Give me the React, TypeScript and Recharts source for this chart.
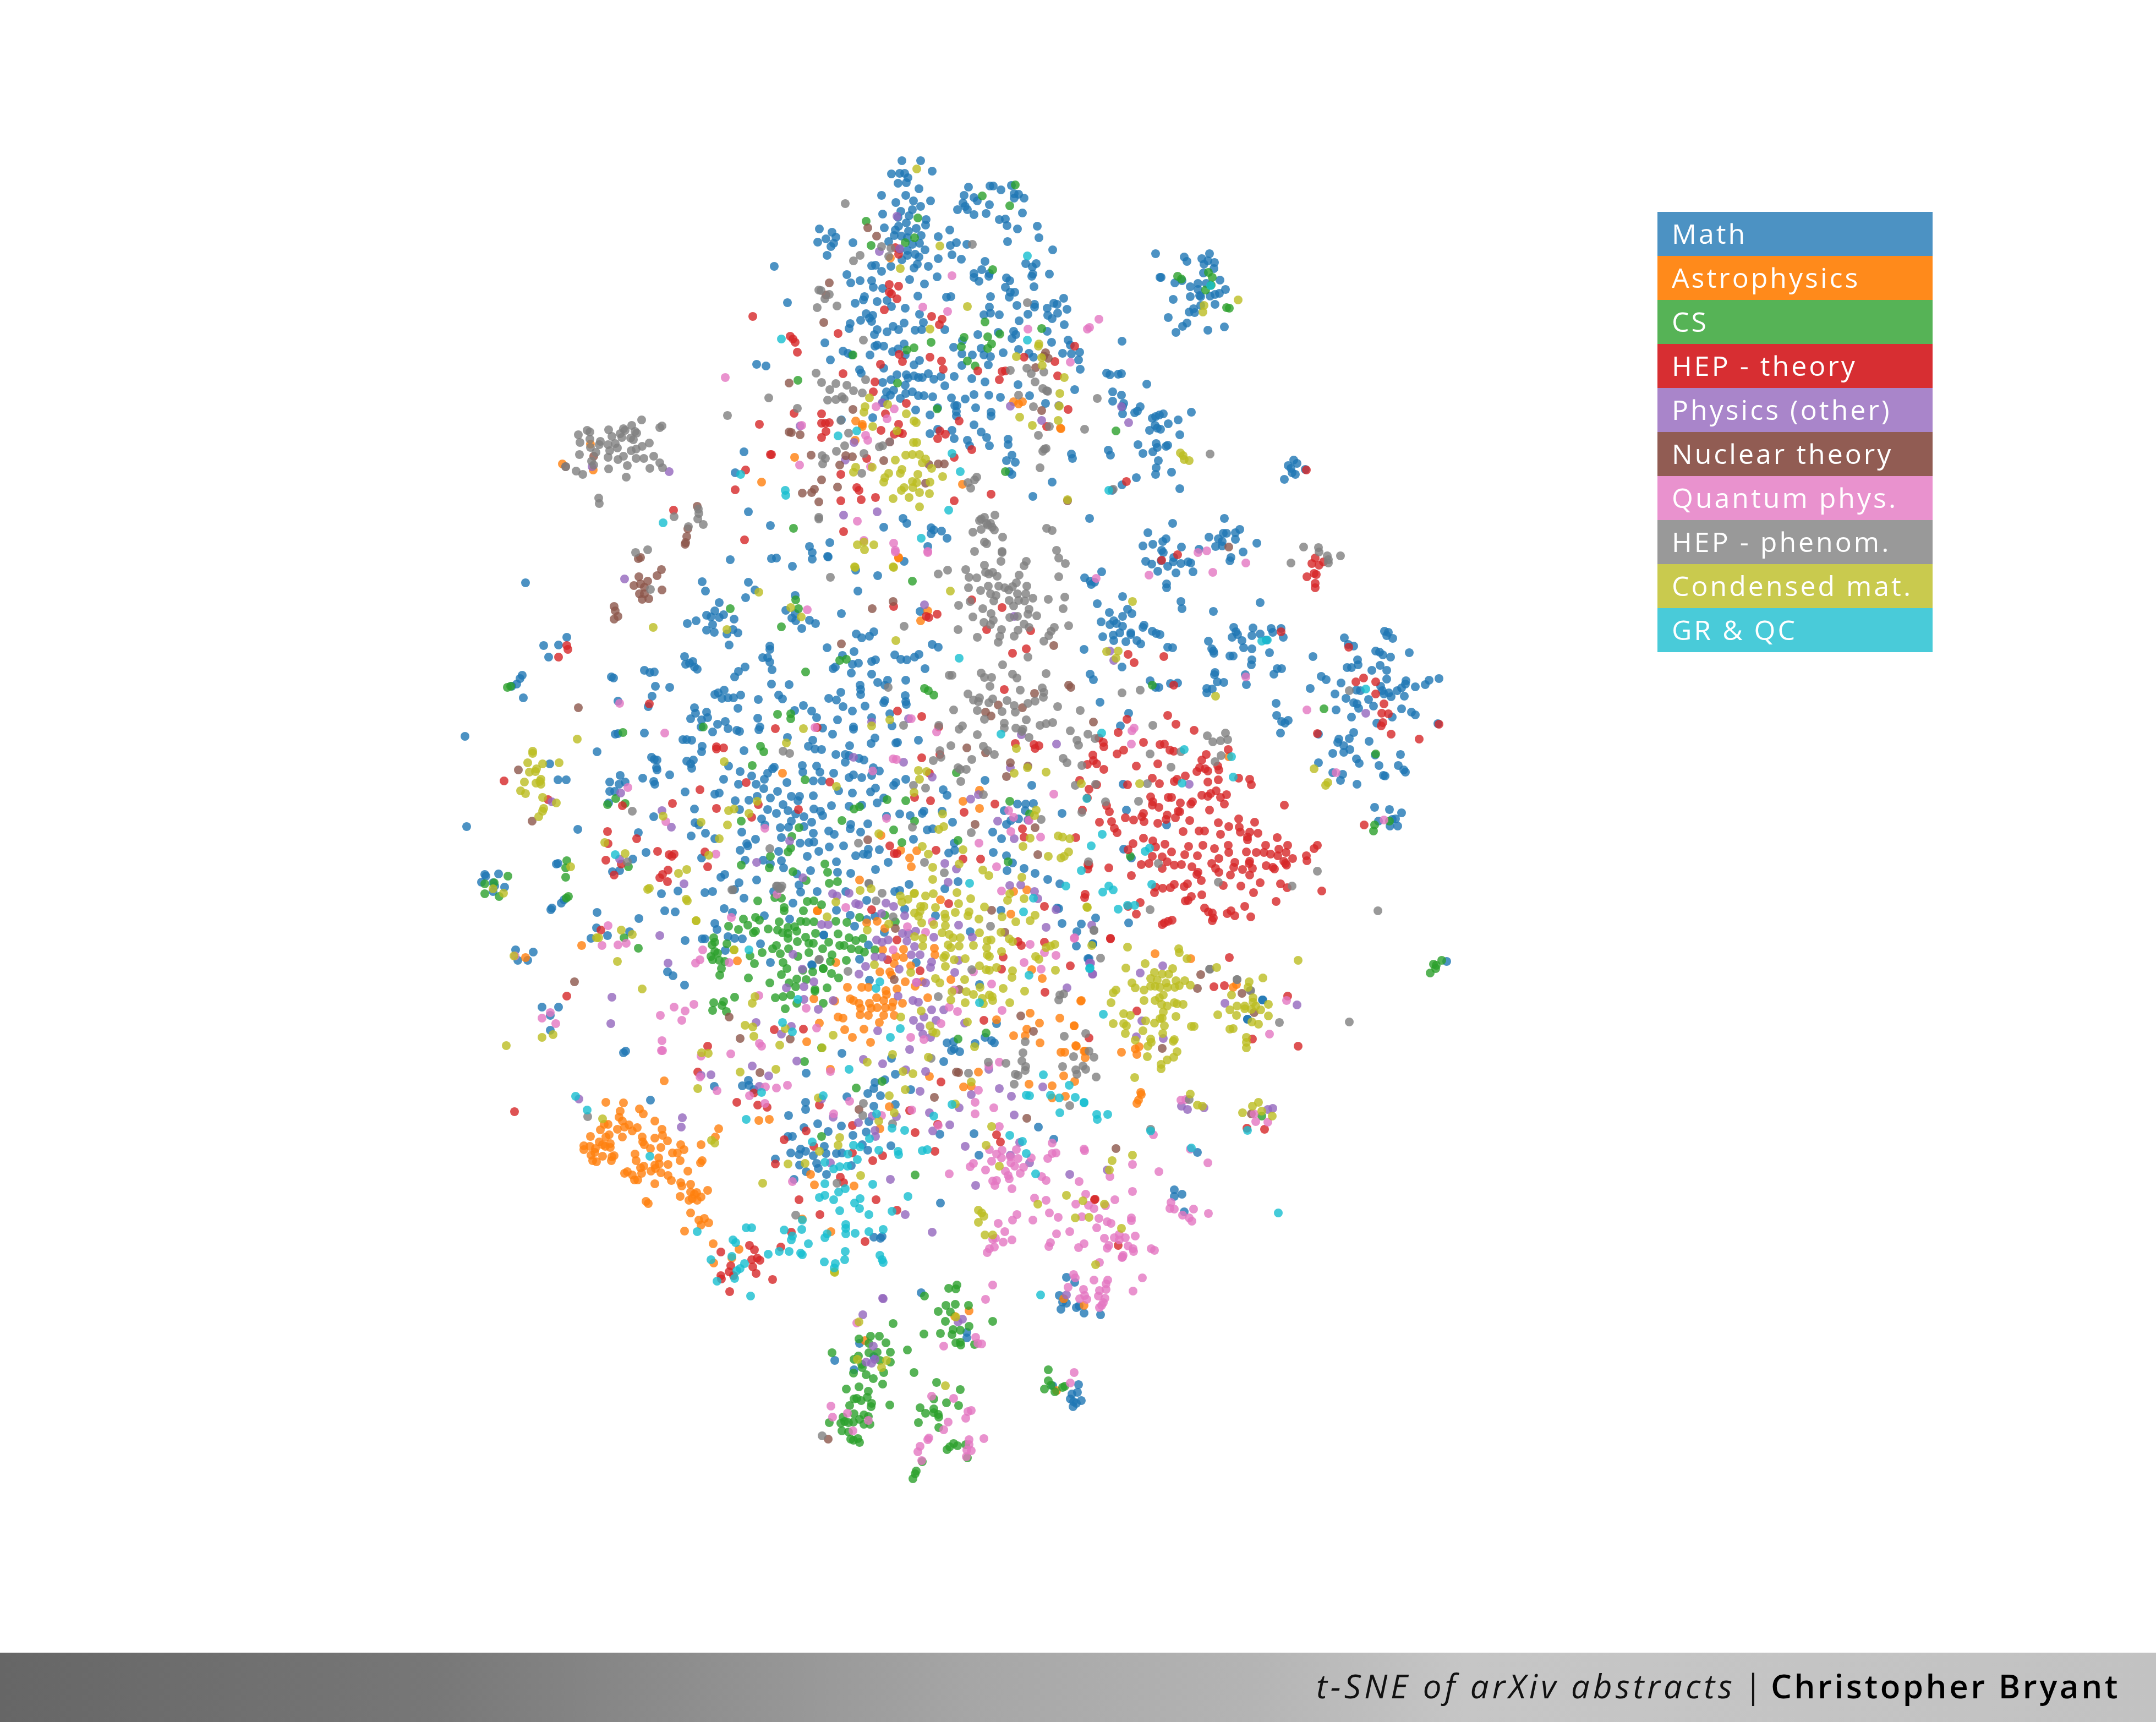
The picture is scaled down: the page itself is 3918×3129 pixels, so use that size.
import React from 'react'
import { ScatterChart, Scatter, XAxis, YAxis } from 'recharts'

type Pt = [number, number]

const WIDTH = 3918
const HEIGHT = 3129

// t-SNE embedding has no real units, values are read off the picture
const math: Pt[] = [
[1639,292],[1673,292],[1694,311],[1620,316],[1635,315],[1644,315],[1650,323],[1632,333],[1647,332],[1670,343],[1602,355],[1646,355],[1660,365],[1691,365],[1628,368],[1673,375],[1658,381],[1637,384],[1604,389],[1652,392],[1632,395],[1683,399],[1647,405],[1682,409],[1633,411],[1607,414],[1665,415],[1627,418],[1651,420],[1489,416],[1512,422],[1519,431],[1501,434],[1486,440],[1515,442],[1510,448],[1503,464],[1550,441],[1625,428],[1638,429],[1674,428],[1615,439],[1649,432],[1671,442],[1658,444],[1681,454],[1635,453],[1649,455],[1663,462],[1670,467],[1649,464],[1639,472],[1667,480],[1687,484],[1661,487],[1619,484],[1602,493],[1584,483],[1591,482],[1539,499],[1546,514],[1563,510],[1584,510],[1587,522],[1604,524],[1653,508],[1680,516],[1703,503],[1705,470],[1705,430],[1726,418],[1727,446],[1738,441],[1757,444],[1730,463],[1747,471],
[1760,340],[1799,338],[1805,338],[1819,345],[1838,337],[1752,355],[1770,359],[1776,365],[1843,352],[1851,353],[1861,360],[1843,360],[1750,369],[1754,375],[1798,372],[1740,381],[1758,381],[1770,390],[1792,388],[1858,387],[1816,399],[1827,398],[1830,410],[1849,416],[1885,411],[1888,432],[1831,439],[1790,475],[1784,490],[1770,497],[1770,504],[1779,511],[1798,497],[1797,502],[1864,479],[1883,479],[1876,485],[1877,498],[1875,502],[1829,505],[1835,510],[1827,522],[1879,521],[1836,531],[1844,531],[1834,540],[1800,539],[1848,555],[1880,553],[1880,558],[1798,558],[1800,569],[1788,572],[1816,572],[1868,571],[1852,583],[1720,540],[1728,539],[1668,538],[1594,548],[1571,539],[1569,545],[1612,546],[1554,551],[1620,557],[1645,560],[1671,571],[1574,570],[1586,573],[1580,578],[1584,584],[1564,582],[1545,588],[1543,597],[1594,599],[1589,608],[1612,603],[1623,593],[1633,599],[1643,587],[1663,600],[1675,599],[1678,586],[1717,599],
[1532,638],[1541,642],[1548,645],[1581,645],[1590,629],[1594,627],[1606,629],[1622,639],[1632,634],[1643,625],[1645,645],[1509,654],[1733,631],[1749,619],[1748,643],[1767,645],[1777,608],[1783,633],[1788,645],[1800,648],[1823,641],[1814,604],[1842,602],[1846,608],[1839,615],[1851,635],[1870,642],[1878,649],[1796,663],[1748,664],[1661,663],[1671,655],[1562,672],[1565,678],[1606,669],[1604,695],[1630,681],[1619,690],[1647,681],[1650,687],[1661,683],[1669,686],[1676,686],[1687,679],[1697,689],[1710,684],[1734,684],[1766,688],[1790,694],[1717,701],[1645,700],[1850,699],[1611,712],[1624,709],[1618,718],[1646,715],[1658,712],[1636,724],[1669,719],[1679,719],[1695,721],[1729,723],[1754,725],[1770,717],[1797,718],[1818,722],[1871,719],[1608,725],[1604,732],[1704,741],[1735,737],[1739,737],[1773,741],[1738,748],[1664,745],[1801,749],[1801,756],[1900,733],[1586,759],[1690,754],[1738,756],[1529,763],[1770,772],[1690,788],[1730,782],[1704,780],[1783,785],[1734,797],[1793,795],[1758,800],[1762,810],[1832,798],[1798,810],[1832,808],[1839,827],[1829,837],[1845,840],[1834,857],[1839,862],[1877,902],[1641,942],[1648,951],[1606,958],[1692,959],[1692,970],[1697,963],[1711,965],[1721,978],[1508,986],[1471,993],[1476,1004],[1686,993],[1505,1012],
[1407,484],[1431,550],[1499,623],[1375,662],[1392,665],[1352,821],[1336,859],[1360,930],[1400,955],[1327,1017],[955,1059],[1276,1057],[1282,1074],[1360,1058],[1372,1072],[1355,1086],[1402,1015],[1411,1014],[1476,1016],[1504,1011],[1440,1029],
[1307,1095],[1284,1118],[1299,1110],[1292,1121],[1315,1117],[1307,1122],[1265,1128],[1249,1133],[1334,1125],[1295,1135],[1284,1145],[1298,1149],[1321,1152],[1332,1144],[1341,1150],[1325,1172],[1445,1082],[1428,1109],[1445,1115],[1439,1123],[1446,1128],[1471,1127],[1482,1133],[1457,1142],[1030,1158],[1015,1172],[988,1173],[997,1194],[949,1227],[945,1233],[939,1243],[930,1247],[951,1268],[845,1338],[848,1502],[1244,1193],[1259,1202],[1246,1207],[1253,1205],[1262,1212],[1267,1216],[1171,1218],[1181,1222],[1189,1221],[1111,1230],[1115,1232],[1191,1247],[1217,1249],[1185,1265],[1178,1284],[1123,1274],[1399,1174],[1399,1180],[1386,1195],[1395,1195],[1399,1203],[1403,1217],[1354,1212],[1342,1220],[1335,1230],[1402,1243],[1434,1244],[1316,1254],[1305,1259],[1299,1262],[1312,1269],[1323,1268],[1333,1268],[1346,1263],[1378,1271],[1415,1263],[1422,1270],[1341,1287],[1262,1286],[1284,1294],[1264,1296],[1255,1306],[1275,1308],[1286,1304],[1377,1305],[1444,1291],[1460,1282],[1475,1292],[1484,1304],[1318,1311],[1304,1316],[1274,1321],[1323,1324],[1295,1330],[1339,1327],[1344,1329],[1381,1321],[1379,1326],[1431,1340],[1495,1323],[1477,1345],[1469,1356],[1481,1361],[1493,1362],[1118,1334],[1123,1333],[1171,1332],[1241,1344],[1248,1344],[1257,1345],[1276,1356],[1275,1366],[1352,1364],[1085,1366],[1184,1376],[1189,1380],[1194,1381],[1193,1395],[1194,1399],[1217,1408],[1248,1383],[1260,1381],[1255,1388],[1257,1396],[1324,1392],[1407,1394],[1404,1397],[1395,1405],[1345,1402],[1366,1410],[1458,1391],[1459,1403],[1484,1392],[1490,1403],[1389,1416],[1374,1425],[1342,1425],[1388,1433],[1430,1422],[1413,1438],[1478,1419],[1494,1419],[1315,1416],[1299,1443],[1307,1441],[1245,1439],[1168,1414],[1188,1420],[1190,1425],[1127,1409],[1108,1421],[1136,1421],[1125,1425],[1108,1438],[1117,1438],[1106,1459],[1014,1417],[1029,1417],[999,1388],
[1376,1447],[1400,1450],[1438,1447],[1453,1447],[1450,1455],[1478,1446],[1336,1455],[1361,1454],[1423,1462],[1344,1471],[1262,1470],[1395,1471],[1411,1478],[1432,1473],[1446,1479],[1479,1470],[1461,1484],[1491,1474],[1495,1482],[1384,1488],[1438,1492],[1475,1494],[1188,1484],[1263,1495],[1270,1499],[1390,1499],[1418,1504],[1433,1503],[1461,1502],[1348,1512],[1478,1514],[1282,1514],[1256,1519],[1299,1524],[1160,1513],[1050,1507],[1373,1525],[1420,1522],[1357,1533],[1359,1537],[1454,1532],[1470,1531],[1479,1530],[1345,1545],[1415,1547],[1488,1547],[1467,1556],[1275,1559],[1150,1561],[1174,1549],[1354,1563],[1387,1563],[1420,1564],[1400,1570],[1424,1577],[1473,1582],[1126,1582],[1113,1584],[1448,1588],[1317,1589],[1310,1594],[1375,1599],[1343,1604],[1452,1608],[1232,1619],[1295,1620],[1281,1622],[1455,1621],[1406,1620],[1485,1620],[1202,1624],[1335,1616],[1352,1632],[1441,1641],[1316,1651],[1208,1655],[1227,1657],[1331,1658],[1389,1664],[1085,1658],[1161,1669],[1435,1670],[1299,1678],[1303,1689],[1144,1693],[1084,1686],[1074,1705],[1104,1700],[1276,1706],[1281,1706],[1323,1702],[1349,1706],[1335,1705],[1245,1709],[1497,1699],[1382,1715],[937,1726],[969,1730],[941,1745],[959,1745],[1318,1727],[1400,1749],[1475,1753],[1213,1766],[1223,1773],[1244,1790],
[881,1589],[896,1604],[906,1588],[875,1603],[896,1620],[917,1612],[883,1592],[899,1610],[1011,1570],[1014,1569],[1003,1650],[1020,1641],[1025,1635],[1001,1653],[985,1830],[1000,1845],[1015,1830],[1000,1872],[1137,1910],
[2198,461],[2152,467],[2157,475],[2184,470],[2195,474],[2207,477],[2188,480],[2206,488],[2187,496],[2108,504],[2110,504],[1913,454],[2100,461],[1907,498],[2217,509],[2148,510],[2135,514],[2177,515],[2192,515],[2163,521],[2177,526],[2227,526],[2216,533],[2208,535],[2199,538],[2163,539],[2180,537],[2182,539],[2132,544],[2208,553],[2182,555],[2169,561],[2161,567],[2171,568],[2123,577],[2157,587],[2149,593],[2137,604],[2195,600],[2225,594],
[1933,542],[1915,551],[1921,553],[1903,560],[1939,562],[1922,569],[1904,573],[1912,579],[1934,590],[1903,602],[1911,622],[1941,618],[1945,627],[2039,620],[1931,642],[1947,643],[1962,640],[1960,654],[1963,671],[2011,678],[2017,681],[2032,680],[2038,679],[2084,698],[1953,708],[2022,712],[2038,718],[2022,729],[2042,733],[2040,739],[2040,752],[2072,739],[2067,747],[2062,750],[2114,752],[2107,754],[2100,757],[2094,760],[2165,749],[2141,763],[2123,770],[2099,773],[2103,778],[2109,780],[2089,782],[2144,790],[2068,808],[2101,806],[2103,813],[2122,809],[2119,811],[2095,821],[2077,824],[2014,818],[2018,827],[1947,825],[1949,833],[2105,837],[2101,850],[2100,862],[2129,858],[2065,868],[2039,881],[2021,891],[2144,888],[1912,876],[2351,836],[2341,846],[2357,842],[2346,851],[2348,859],[2354,862],[2334,871],[2372,853],
[1980,942],[2131,951],[2225,942],[2086,968],[2253,962],[2223,969],[2229,969],[2245,968],[2197,976],[2214,979],[2245,980],[2119,979],[2113,984],[2221,984],[2284,987],[2077,992],[2095,989],[2209,993],[2147,994],[2221,992],[2111,1000],[2114,1004],[2179,998],[2259,1003],[2237,1013],[2235,1019],[2082,1020],[2093,1025],[2110,1019],[2133,1013],[2132,1021],[2159,1021],[2164,1023],[2146,1024],[2122,1029],[2104,1038],[2137,1041],[2168,1039],[2002,1039],[1971,1050],[1981,1056],[1983,1062],[1989,1058],[2120,1061],[2120,1068],[2290,1095],[2205,1111],[2146,1093],[2148,1106],[2040,1084],[1994,1097],[2016,1113],[2049,1107],[2040,1120],[2057,1115],[2001,1130],[2024,1128],[2017,1135],[2029,1133],[2079,1136],[2077,1140],[2040,1138],[2094,1147],[2101,1151],[2108,1153],[2055,1150],[2035,1150],[2023,1154],[2004,1157],[2055,1153],[2024,1164],[2046,1166],[2066,1164],[2073,1170],[2122,1176],[2131,1177],[1970,1180],[2039,1212],
[2242,1140],[2277,1141],[2310,1142],[2328,1142],[2246,1148],[2249,1153],[2239,1158],[2275,1155],[2290,1152],[2313,1149],[2332,1158],[2257,1164],[2196,1165],[2301,1163],[2260,1177],[2202,1179],[2275,1179],[2205,1183],[2206,1187],[2307,1186],[2235,1192],[2241,1192],[2275,1199],[2274,1208],[2386,1193],[2443,1159],[2450,1171],[2460,1174],[2516,1147],[2523,1149],[2520,1155],[2531,1160],[2500,1183],[2507,1185],[2513,1190],[2527,1194],[2561,1186],[2467,1199],[2468,1208],[2448,1213],[2456,1213],[2508,1209],[2493,1218],[2321,1215],[2329,1215],
[2208,1222],[2207,1226],[2212,1239],[2224,1240],[2263,1226],[2265,1244],[2193,1251],[2203,1252],[2193,1259],[2127,1242],[2140,1241],[2090,1237],[2100,1249],[2106,1249],[1981,1225],[1987,1235],[1999,1276],[2051,1296],[2036,1319],[2319,1278],[2320,1300],[2329,1311],[2341,1309],[2335,1314],[2327,1332],[2315,1225],[2520,1234],[2520,1218],[2401,1229],[2410,1235],[2437,1241],[2509,1247],[2555,1237],[2554,1243],[2572,1248],[2590,1244],[2597,1236],[2615,1233],[2547,1250],[2539,1255],[2381,1251],[2465,1254],[2472,1255],[2512,1255],[2515,1261],[2528,1266],[2524,1259],[2552,1265],[2426,1261],[2446,1269],[2487,1271],[2460,1277],[2466,1279],[2469,1287],[2496,1283],[2428,1290],[2547,1288],[2565,1294],[2572,1299],[2456,1303],[2530,1303],[2502,1314],[2613,1315],[2396,1334],[2460,1331],[2433,1343],[2452,1342],[2488,1347],[2431,1349],[2442,1355],[2453,1362],[2442,1367],[2422,1369],[2499,1372],[2545,1371],[2396,1386],[2465,1379],[2470,1387],[2506,1391],[2541,1391],[2551,1399],[2554,1403],[2422,1404],[2440,1407],[2514,1409],[2517,1410],[2436,1418],[2466,1425],[2498,1467],[2525,1471],[2547,1477],[2505,1492],[2536,1488],[2526,1501],[2540,1501],[2530,1489],[2041,1425],[2047,1472],[2120,1499],[2042,1543],[2056,1559],[2051,1677],[1991,1668],[1965,1679],[1957,1693],[1986,1715],[1956,1719],[1977,1742],[2295,1817],[2267,1852],[2629,1747],
[1643,1020],[1595,1046],[1555,1036],[1559,1074],[1529,1115],[1672,1111],[1556,1152],[1580,1156],[1566,1159],[1588,1148],[1694,1171],[1705,1176],[1503,1177],[1552,1184],[1626,1190],[1637,1198],[1648,1199],[1662,1194],[1670,1189],[1531,1191],[1584,1202],[1591,1199],[1549,1207],[1560,1205],[1518,1212],[1514,1215],[1681,1215],[1547,1223],[1584,1225],[1595,1240],[1613,1236],[1608,1245],[1646,1236],[1563,1245],[1564,1253],[1564,1262],[1528,1258],[1506,1269],[1520,1272],[1532,1284],[1572,1283],[1608,1273],[1606,1277],[1645,1264],[1646,1275],[1647,1280],[1549,1292],[1617,1297],[1584,1304],[1621,1319],[1522,1308],[1551,1321],[1551,1325],[1513,1334],[1583,1351],[1590,1341],[1628,1350],[1631,1349],[1669,1345],[1544,1355],[1519,1371],[1536,1371],[1543,1373],[1561,1378],[1570,1381],[1536,1385],[1587,1395],[1598,1401],[1515,1405],[1551,1408],[1543,1413],[1566,1413],[1584,1409],[1646,1416],[1628,1422],[1624,1427],[1790,1418],[1875,1427],[1591,1432],[1524,1437],[1582,1439],[1549,1441],[1714,1435],[1721,1445],[1606,1450],[1594,1459],[1511,1464],[1543,1465],[1566,1463],[1849,1461],[1864,1461],[1878,1460],[1825,1473],[1863,1473],[1679,1474],[1676,1478],[1712,1474],[1635,1479],[1654,1482],[1611,1483],[1930,1478],[1851,1488],[1837,1491],[1731,1494],[1577,1497],[1546,1498],[1829,1498],[1868,1490],[1545,1506],[1506,1510],[1564,1512],[1685,1508],[1695,1506],[1804,1512],[1516,1516],[1660,1525],[1820,1524],[1507,1539],[1533,1537],[1734,1532],[1735,1545],[1598,1544],[1578,1543],[1555,1555],[1569,1552],[1577,1553],[1724,1550],[1805,1549],[1829,1555],[1520,1566],[1614,1567],[1840,1568],[1861,1578],[1591,1580],[1522,1585],[1546,1587],[1830,1582],[1881,1587],[1904,1598],[1926,1606],[1921,1650],[1930,1678],
[1575,1636],[1520,1654],[1545,1663],[1553,1683],[1575,1671],[1590,1665],[1607,1694],[1644,1652],[1578,1717],[1562,1743],[1497,1699],[1476,1754],[1580,1781],[1665,1749],[1700,1664],[1717,1615],[1652,1607],[1626,1620],[1635,1618],[1537,1620],[1741,1602],[1819,1654],[1763,1693],[1780,1789],[1924,1651],
[1811,1860],[1790,1885],[1802,1891],[1807,1895],[1721,1895],[1733,1893],[1772,1896],[1734,1906],[1729,1909],[1744,1911],[1715,1929],[1530,1914],[1620,1923],[1465,1950],[1627,1952],[1608,1962],[1590,1967],[1588,1978],[1577,1987],[1600,1991],[1360,1963],[1349,1973],[1361,1972],[1370,1980],[1298,1974],[1539,1993],[1655,1980],[1464,2003],[1464,2016],[1588,2010],[1627,2007],[1433,2027],[1486,2042],[1579,2038],[1529,2046],[1461,2049],[1505,2056],[1574,2057],[1550,2063],[1708,2061],[1770,2060],[1887,2048],[1915,2070],[1432,2065],[1440,2065],[1567,2080],[1619,2082],[1498,2083],[1455,2088],[1464,2092],[1577,2090],[1437,2095],[1452,2098],[1478,2100],[1501,2096],[1520,2096],[1530,2095],[1779,2099],[1409,2106],[1453,2117],[1484,2114],[1547,2118],[1487,2123],[1465,2129],[1502,2134],[1443,2143],[1709,2186],[1588,2248],[1603,2247],[1600,2250],
[1986,1715],[1979,1742],[2294,1817],[2267,1852],[2134,2162],[2134,2174],[2148,2170],[2152,2202],[2176,2094],[1182,1999],[1133,1913],
[1674,2349],[1562,2441],[1517,2472],[1588,2465],[1552,2489],[1757,2421],[1757,2431],[1938,2321],[1953,2330],[1925,2354],[1931,2366],[1938,2368],[1928,2379],[1956,2376],[1970,2386],[2000,2389],[1961,2373],[1913,2518],[1960,2516],[1958,2530],[1948,2533],[1945,2542],[1965,2545],[1951,2547],[1956,2550],[1950,2556],
]

const astro: Pt[] = [
[1022,843],[1073,807],[1078,854],[1384,876],[1422,1405],[1057,1718],[955,1740],[1340,1746],[1485,1655],[1618,469],[1842,730],[1851,734],[1858,730],[1555,765],[1567,771],[1567,775],[1927,778],[1554,800],[1444,831],[1749,880],[1633,1013],[1928,779],[1633,1014],[1686,1110],[1673,1128],[1750,1456],[1780,1436],[1780,1469],[1601,1518],[1637,1545],[1653,1559],[1666,1546],[1562,1599],[1656,1575],[2233,1375],
[1866,1617],[1842,1620],[1709,1635],[1486,1655],[1837,1661],[1575,1677],[1594,1674],[1608,1687],[1604,1726],[1698,1723],[1642,1725],[1628,1738],[1642,1740],[1699,1735],[1519,1749],[1625,1751],[1655,1755],[1599,1766],[1617,1766],[1620,1772],[1875,1762],[1728,1780],[1645,1784],[1894,1778],[1676,1784],[1630,1797],[1540,1794],[1566,1794],[1578,1794],[1663,1792],[1610,1800],[1611,1807],[1593,1813],[1479,1815],[1545,1815],[1551,1818],[1561,1823],[1580,1823],[1606,1818],[1623,1821],[1640,1823],[1686,1813],[1964,1819],[1517,1819],[1564,1832],[1583,1832],[1594,1831],[1609,1831],[1621,1830],[1563,1844],[1578,1845],[1606,1845],[1625,1845],[1523,1848],[1532,1850],[1872,1841],[1926,1850],[1489,1859],[1598,1858],[1811,1853],[1889,1859],[1952,1864],[1535,1871],[1570,1870],[1866,1870],[1863,1882],[1842,1882],[1549,1885],[1582,1894],[1466,1893],[1890,1895],[1955,1900],[1928,1912],[1935,1912],[1972,1922],[1970,1910],[1509,1943],[1689,1956],[1870,1970],[1933,1955],[1953,1965],[1778,1948],[1751,1975],[1765,1974],[1912,1973],[1936,1992],[1912,1995],[1616,2011],[1379,2036],[1398,2034],[1599,2051],[1473,2134],[1480,2153],[1552,2155],[1458,2215],[1510,2238],[1343,2270],[1296,2260],[1297,2295],[1330,2286],
[1101,2003],[1133,2004],[1127,2019],[1125,2030],[1162,2015],[1169,2024],[1190,2037],[1131,2037],[1105,2043],[1098,2043],[1091,2053],[1143,2044],[1135,2048],[1122,2052],[1149,2055],[1158,2049],[1203,2052],[1107,2062],[1101,2066],[1073,2065],[1204,2063],[1131,2066],[1167,2066],[1190,2068],[1213,2073],[1089,2075],[1168,2075],[1171,2080],[1061,2082],[1072,2083],[1095,2080],[1109,2078],[1237,2080],[1274,2080],[1306,2051],[1300,2066],[1201,2085],[1100,2083],[1109,2085],[1182,2087],[1243,2089],[1061,2089],[1082,2087],[1081,2094],[1222,2095],[1231,2095],[1154,2097],[1074,2099],[1095,2101],[1116,2100],[1112,2102],[1197,2104],[1156,2109],[1077,2109],[1084,2111],[1111,2109],[1236,2109],[1276,2109],[1273,2113],[1214,2116],[1198,2115],[1190,2117],[1170,2119],[1164,2122],[1191,2123],[1140,2129],[1135,2132],[1166,2132],[1183,2128],[1201,2131],[1250,2128],[1149,2135],[1214,2136],[1153,2144],[1159,2144],[1220,2145],[1190,2151],[1237,2149],[1255,2152],[1239,2155],[1286,2163],[1255,2166],[1266,2167],[1262,2170],[1236,2174],[1274,2175],[1252,2181],[1258,2178],[1267,2181],[1174,2183],[1178,2187],[1255,2204],[1207,1964],[1270,2217],[1280,2214],[1288,2222],[1274,2226],[1244,2237],
[2099,1733],[2164,1742],[1965,1818],[2038,1912],[2063,1906],[2070,1902],[2066,1916],[2241,1794],[2247,1789],[2073,1985],[2074,1989],[2069,1999],[2066,2005],[1952,1864],[1956,1901],[1972,1910],[1970,2372],[1761,2382],[1735,2392],[1572,2436],[1920,2527],[1933,2360],
]

const cs: Pt[] = [
[1574,402],[1668,396],[1662,432],[1645,441],[1583,446],[1804,490],[1785,356],[1835,374],[1845,336],[1692,622],[1661,632],[1648,636],[1550,645],[1752,613],[1747,630],[1795,612],[1817,607],[1802,625],[1795,633],[1790,585],[1893,597],[1772,665],[1758,656],[1631,696],[1703,743],[1827,857],[1450,691],[1442,960],[1658,1056],
[2140,502],[2147,507],[2203,504],[2196,495],[2201,518],[2191,527],[2229,559],[2234,560],[2028,783],[2406,1288],[2094,1245],[2500,1370],[2054,1556],[2525,1492],[2498,1499],[2496,1510],[2610,1754],[2605,1752],[2620,1745],[2609,1760],[2599,1768],
[1327,1106],[1446,1090],[1451,1106],[1420,1139],[922,1249],[928,1247],[1464,1221],[1132,1331],[1278,1321],[1413,1298],[1437,1306],[1437,1297],[1382,1356],[1388,1366],[1367,1391],[1463,1417],[1119,1451],[1104,1462],[1136,1460],[1142,1575],[1347,1492],[1452,1504],[1439,1520],[1437,1541],[1432,1548],[1400,1556],[1347,1572],[1398,1577],[1030,1564],[1028,1577],[1028,1594],[1033,1629],[1029,1632],[923,1592],[881,1606],[898,1604],[881,1624],[907,1629],[1134,1704],[1160,1723],[1499,1570],[1441,1584],[1504,1585],
[1465,1600],[1377,1637],[1408,1631],[1420,1632],[1425,1649],[1425,1655],[1467,1638],[1479,1637],[1493,1644],[1460,1655],[1351,1670],[1373,1667],[1380,1672],[1324,1683],[1359,1681],[1342,1689],[1373,1692],[1369,1695],[1396,1688],[1416,1675],[1413,1690],[1432,1685],[1444,1684],[1455,1674],[1465,1675],[1479,1675],[1448,1692],[1432,1696],[1432,1705],[1422,1695],[1482,1696],[1464,1703],[1449,1711],[1470,1714],[1478,1714],[1411,1718],[1404,1724],[1418,1733],[1433,1724],[1470,1731],[1495,1724],[1297,1704],[1299,1712],[1294,1717],[1321,1715],[1299,1729],[1304,1732],[1292,1738],[1295,1744],[1307,1745],[1317,1747],[1363,1737],[1385,1731],[1450,1738],[1371,1751],[1423,1749],[1430,1760],[1311,1760],[1308,1772],[1360,1777],[1399,1786],[1420,1771],[1459,1763],[1477,1766],[1496,1760],[1434,1786],[1448,1779],[1446,1793],[1465,1780],[1481,1798],
[1507,1605],[1522,1602],[1562,1667],[1519,1674],[1539,1676],[1523,1697],[1543,1704],[1555,1709],[1568,1705],[1506,1712],[1526,1718],[1534,1718],[1547,1724],[1561,1726],[1571,1730],[1590,1726],[1512,1735],[1509,1747],[1538,1745],[1496,1760],[1511,1769],[1524,1777],[1503,1795],[1608,1663],[1627,1675],[1481,1801],[1437,1808],[1423,1811],[1409,1813],[1448,1823],[1496,1823],[1427,1833],[1315,1820],[1335,1812],[1297,1822],[1312,1827],[1295,1836],[1320,1838],[1462,1929],[1493,1904],[1556,1977],[1493,2065],[1663,2135],[1603,1965],[1792,1877],[1741,1888],[1530,1491],[1738,1404],[1612,1453],[1646,1455],[1562,1466],[1552,1470],[1835,1456],[1871,1479],[1662,1492],[1624,1508],[1639,1531],[1741,1527],[1832,1566],[1526,1200],[1538,1198],[1680,1251],[1687,1255],[1697,1263],[2293,2028],
[1739,2335],[1724,2341],[1737,2342],[1680,2355],[1719,2372],[1736,2370],[1760,2372],[1705,2383],[1727,2384],[1718,2401],[1804,2401],[1761,2410],[1732,2416],[1745,2417],[1709,2423],[1679,2424],[1730,2425],[1737,2440],[1745,2439],[1746,2444],[1771,2443],[1623,2405],[1598,2428],[1582,2428],[1561,2433],[1610,2440],[1579,2441],[1649,2453],[1512,2458],[1618,2457],[1579,2458],[1594,2457],[1560,2464],[1552,2470],[1599,2472],[1618,2475],[1566,2479],[1567,2485],[1661,2494],[1606,2494],[1574,2498],[1551,2495],[1587,2505],[1604,2515],[1538,2524],[1561,2520],[1578,2528],[1576,2539],[1557,2541],[1552,2542],[1565,2545],[1544,2554],[1584,2550],[1583,2556],[1617,2553],[1552,2569],[1570,2571],[1532,2575],[1578,2574],[1562,2579],[1535,2583],[1542,2585],[1551,2584],[1528,2586],[1507,2585],[1570,2588],[1581,2588],[1530,2600],[1542,2602],[1546,2615],[1559,2614],[1551,2617],[1562,2621],[1702,2512],[1745,2525],[1697,2542],[1720,2549],[1742,2554],[1672,2558],[1682,2568],[1697,2560],[1697,2567],[1705,2570],[1706,2575],[1669,2585],[1706,2594],[1733,2623],[1740,2627],[1726,2629],[1721,2634],[1755,2625],[1758,2649],[1676,2656],[1665,2673],[1663,2678],[1659,2687],[1905,2489],[1905,2509],[1898,2524],[1910,2517],[1935,2519],[1931,2521],[1917,2529],
]

const hepTheory: Pt[] = [
[1368,575],[1336,890],[1355,854],[1380,771],[1400,826],[1353,981],[1224,927],[1436,611],[1441,616],[1445,622],[1449,640],[1523,606],[1616,517],[1633,520],[1616,531],[1620,534],[1630,543],[1607,563],[1693,575],[1712,580],[1707,590],[1627,450],[1633,462],[1634,644],[1640,657],[1600,662],[1690,649],[1711,656],[1714,671],[1532,679],[1590,694],[1587,712],[1777,674],[1821,675],[1827,674],[1816,690],[1861,649],[1917,657],[1922,683],[1941,744],[1647,733],[1609,752],[1493,752],[1493,769],[1500,769],[1507,768],[1501,784],[1493,795],[1443,751],[1743,765],[1633,771],[1601,782],[1625,789],[1634,786],[1640,788],[1704,797],[1718,789],[1708,783],[1617,803],[1902,775],[1766,817],[1575,833],[1734,831],[1528,862],[1557,886],[1561,891],[1528,910],[1565,908],[1591,904],[1734,910],[1801,898],[1533,966],[1402,826],
[1030,1173],[1032,1180],[1015,1194],[1180,1279],[1409,1324],[1302,1357],[1302,1361],[1315,1359],[1356,1422],[1272,1435],[916,1419],[996,1453],[1131,1464],[1222,1460],[1302,1469],[1378,1462],[1366,1485],[1451,1471],[1104,1511],[1157,1524],[1105,1533],[1101,1563],[1129,1570],[1195,1547],[1216,1553],[1221,1556],[1225,1552],[1281,1548],[1286,1575],[1214,1581],[1204,1589],[1199,1595],[1213,1602],[1116,1590],[1092,1690],[1485,1322],[1030,1810],[935,2020],
[1953,629],[2047,875],[2374,854],[2140,1008],[2111,1018],[2390,1014],[2384,1024],[2397,1027],[2405,1021],[2388,1042],[2392,1044],[2375,1048],[2390,1060],[2390,1068],[2050,1189],[2061,1204],[2115,1193],[2328,1148],[2451,1176],
[2122,1300],[2137,1316],[2170,1327],[2048,1307],[2032,1331],[1997,1341],[2005,1349],[2006,1357],[1986,1372],[1987,1382],[1976,1389],[1993,1388],[2006,1398],[2078,1349],[2108,1353],[2116,1352],[2126,1363],[2133,1365],[2042,1363],[2030,1370],[2104,1388],[2065,1392],[2192,1371],[2184,1381],[2232,1362],[2180,1395],[2190,1397],[2175,1402],[2195,1401],[2213,1392],[2215,1399],[2154,1410],[2094,1414],[2139,1416],[2134,1420],[2107,1424],[2049,1426],[1993,1426],[1962,1418],[1979,1434],[2195,1421],[2214,1417],[2251,1414],[2271,1416],[2274,1426],[2210,1437],[2200,1442],[2184,1445],[2195,1447],[2218,1449],[2229,1444],[2091,1448],[2123,1449],[2129,1449],[2095,1457],[2145,1459],[2167,1457],[2164,1461],[2094,1463],[2106,1467],[2225,1461],[2011,1464],[2016,1475],[1967,1472],[1976,1450],[2141,1474],[2144,1475],[2198,1472],[2078,1478],[2075,1484],[2121,1481],[2136,1486],[2045,1486],[2060,1490],[2079,1493],[1998,1494],[2020,1493],[2104,1496],[2119,1489],[2162,1491],[2025,1505],[2030,1513],[2214,1495],[2251,1488],[2280,1494],[2233,1502],[2252,1503],[2150,1511],[2179,1510],[2189,1510],[2254,1512],[2271,1512],[2286,1514],[2218,1516],[2078,1523],[2267,1521],[2321,1522],[2267,1526],[1955,1522],[2059,1533],[2095,1528],[2117,1534],[2100,1539],[2160,1538],[2186,1536],[2207,1542],[2232,1536],[2300,1536],[2324,1543],[2340,1536],[2394,1536],[2388,1542],[2050,1544],[2129,1548],[2233,1549],[2265,1548],[2283,1549],[2297,1549],[2309,1552],[2337,1549],[2322,1555],[2094,1556],[2112,1557],[2153,1553],[2176,1555],[2374,1555],[2215,1560],[2349,1560],[2121,1566],[2074,1571],[2088,1569],[2134,1572],[2147,1571],[2202,1569],[2244,1567],[2271,1565],[2333,1565],[2336,1569],[2375,1564],[2015,1577],[1979,1572],[1977,1579],[2112,1578],[2166,1575],[2242,1576],[2270,1569],[2301,1573],[2313,1576],[2338,1572],[2209,1578],[2258,1580],[2276,1578],[2316,1579],[2177,1585],[2175,1589],[2215,1585],[2236,1590],[2271,1590],[2056,1591],[2183,1600],[2290,1604],[2327,1606],[2158,1606],[2134,1607],[2100,1612],[2113,1614],[2127,1613],[2152,1611],[2223,1609],[2255,1610],[2339,1613],[2402,1619],[2098,1622],[2278,1622],[1972,1625],[1971,1631],[2165,1629],[2184,1626],[2154,1637],[2159,1636],[2319,1638],[2072,1640],[2050,1647],[2262,1647],[2189,1650],[2196,1657],[2203,1659],[2237,1655],[2230,1660],[2244,1664],[2273,1666],[2205,1668],[2203,1673],[2065,1661],[2130,1672],[2123,1674],[2116,1677],[2112,1680],[2018,1705],[2234,1740],[2464,1239],[2478,1232],[2500,1239],[2500,1261],[2515,1279],[2511,1296],[2523,1297],[2513,1313],[2510,1319],[2528,1334],[2394,1333],[2579,1343],[2615,1316],[2479,1499],[2133,1245],[2334,1463],
[1624,1102],[1703,1116],[1683,1120],[1688,1122],[1766,1090],[1821,1104],[1793,1144],[1873,1146],[1840,1187],[1865,1179],[1631,1292],[1675,1302],[1706,1321],[1825,1253],[1845,1351],[1879,1353],[1888,1355],[1881,1360],[1675,1377],[1708,1371],[1689,1405],[1508,1421],[1662,1449],[1691,1455],[1808,1461],[1752,1476],[1858,1506],[1861,1521],[1701,1545],[1750,1561],[1782,1561],[1617,1537],[1625,1551],[1630,1551],[1977,1571],
[1584,1653],[1630,1708],[1724,1642],[1898,1647],[1850,1711],[1856,1718],[1898,1712],[1823,1739],[1945,1755],[1672,1764],[1820,1761],[1613,1744],[1899,1803],[1788,1854],[1407,1871],[1460,1870],[1286,1901],[1710,1966],[1268,1948],[1370,1986],[1339,2003],[1377,2008],[1394,2012],[1489,2008],[1653,2018],[1704,2043],[1549,2045],[1465,2055],[1663,2058],[1425,2071],[1479,2083],[1811,2062],[1818,2075],[1549,2095],[1699,2092],[1604,2100],[1586,2109],[1409,2115],[1527,2139],[1533,2149],[1452,2180],[1592,2180],[1490,2207],[1630,2199],[1438,2239],[1572,2256],[1362,2263],[1371,2271],[1310,2275],[1989,2180],[1419,2266],[1376,2286],[1381,2290],[1366,2289],[1328,2300],[1368,2302],[1325,2311],[1374,2314],[1310,2318],[1311,2324],[1333,2318],[1404,2325],[1326,2347],
[2206,1793],[2225,1791],[2066,1837],[2276,1888],[2340,1810],[2359,1901],[2298,2052],[2266,2050],[1990,2179],[2032,2263],[1979,1886],[2018,1706],
]

const physicsOther: Pt[] = [
[1216,857],[1076,848],[1135,1052],[1128,1441],[1003,1457],[1203,1473],[1220,1503],[1243,1606],[1126,1561],[1199,1700],[1214,1750],[1375,1567],[1435,1528],[1441,1734],[1459,1595],[1052,1997],[1240,2031],[1238,2048],[1112,1812],[1110,1860],
[1598,457],[1630,393],[1635,452],[1603,732],[1454,774],[1552,804],[1536,836],[1836,738],[1893,764],[1594,930],[1533,936],[2051,768],[2038,739],[2017,1183],[2024,1200],[2161,1425],[2482,1296],[1984,1681],[1982,1750],[1986,1770],
[1680,1099],[1843,1120],[1651,1306],[1642,1385],[1551,1376],[1856,1335],[1920,1352],[1836,1395],[1694,1412],[1764,1452],[1778,1444],[1813,1492],[1869,1490],[1843,1524],[1717,1569],[1738,1579],[1584,1312],
[1513,1624],[1521,1628],[1543,1623],[1555,1642],[1561,1644],[1610,1641],[1624,1647],[1602,1660],[1644,1664],[1493,1680],[1505,1680],[1640,1696],[1651,1696],[1664,1692],[1593,1708],[1603,1712],[1614,1708],[1648,1710],[1662,1720],[1697,1703],[1590,1739],[1603,1739],[1656,1735],[1672,1735],[1693,1748],[1573,1756],[1634,1761],[1691,1758],[1561,1770],[1735,1767],[1458,1761],[1479,1784],[1429,1795],[1461,1793],[1666,1785],[1682,1786],[1742,1681],[1767,1703],[1880,1620],[1835,1609],[1855,1608],[1886,1633],[1919,1653],[1901,1685],[1723,1603],[1742,1745],[1461,1816],[1632,1810],[1659,1818],[1669,1821],[1514,1818],[1438,1865],[1420,1879],[1374,1858],[1693,1835],[1715,1835],[1487,1834],[1679,1848],[1660,1854],[1701,1854],[1753,1859],[1672,1866],[1595,1873],[1677,1879],[1691,1885],[1653,1907],[1569,1925],[1448,1928],[1604,1933],[1646,1944],[1682,1947],[1367,1937],[1397,1955],[1292,1953],[1274,1954],[1380,1974],[1816,1978],[1939,1795],[1980,1750],[1985,1770],[1765,1989],[1838,1992],[1672,1983],[1895,1975],[1797,1943],[1743,2013],[1493,1997],[1689,2022],[1843,2026],[1585,2028],[1514,2030],[1560,2040],[1629,2029],[1726,2044],[1695,2055],[1590,2054],[1591,2065],[1754,2083],[1853,2076],[1836,2099],[1871,2113],[1618,2143],[1773,2154],[1944,2134],[1645,2207],[1694,2239],[1604,2359],[1509,2113],
[2113,1755],[2072,1768],[2226,1823],[2357,1826],[2075,1855],[2065,1884],[2114,1887],[2147,2010],[2158,2016],[2188,2013],[2304,2016],[2313,2014],[2012,2126],
[1605,2360],[1568,2389],[1749,2397],[1741,2402],[1587,2446],[1574,2475],[1584,2477],[1938,2353],[1590,2470],
]

const nuclear: Pt[] = [
[1267,920],[1250,961],[1248,975],[1246,986],[1245,989],[1160,1015],[1164,1013],[1079,829],[1028,848],
[1202,1035],[1194,1046],[1161,1048],[1177,1056],[1152,1064],[1164,1061],[1171,1067],[1203,1072],[1162,1079],[1171,1079],[1167,1089],[1179,1088],[1116,1102],[1118,1110],[1123,1120],[1116,1125],[1051,1286],[942,1399],[967,1492],[1044,1784],
[1577,414],[1593,429],[1507,514],[1501,536],[1497,586],[1434,696],[1550,744],[1434,785],[1438,786],[1454,790],[1474,827],[1537,828],[1549,830],[1526,845],[1606,837],[1688,844],[1705,843],[1716,843],[1493,872],[1522,885],[1480,889],[1475,895],[1458,896],[1488,912],[1682,878],[1900,641],[1897,647],[1905,651],[1882,668],[1893,746],[1940,910],[1915,1173],[2233,994],
[1987,1312],[1623,1093],[1585,1106],[1529,1170],[1757,1359],[1791,1368],[1880,1260],[1814,1281],[1858,1286],[1791,1294],[1801,1301],[1942,1245],[1946,1249],[1836,1386],[1868,1392],[1829,1411],[1772,1498],[1881,1504],[1577,1526],[1886,1553],
[1802,1654],[1826,1694],[1627,1687],[1625,1780],[1743,1798],[1325,1848],[1345,1887],[1436,1888],[1381,1949],[1738,1948],[1742,1949],[1698,1994],[1561,2016],[1866,2032],[1855,1846],[1878,1874],[2182,1771],[2176,1796],[2257,1805],[2279,1840],[2112,1905],[2274,2024],[2028,2087],[1505,2615],
]

const quantum: Pt[] = [
[1318,686],[1467,1108],[1481,1322],[1126,1278],[1208,1332],[1141,1431],[1210,1493],[1390,1505],[1301,1552],[1412,1625],[1329,1667],[1105,1682],[1094,1718],[1123,1717],[1138,1714],[936,1737],[1277,1726],[1272,1744],[1264,1750],[1325,1749],[1202,1909],[985,1850],[1010,1860],[1000,1840],[1200,1845],[1225,1830],
[1730,501],[1677,558],[1722,566],[1997,580],[1980,595],[1976,598],[1868,598],[1945,658],[1592,739],[1625,743],[1612,761],[1457,773],[1573,791],[1577,800],[1453,845],[1582,848],[1558,947],[1570,982],[1624,987],[1627,1000],[1686,1002],[2193,1001],[2177,1004],[2264,1023],[2088,1045],[2204,1040],[1992,1051],[2375,1290],[2057,1328],[2061,1323],[2056,1352],[2264,1230],[2428,1404],[2515,1490],[1953,1704],
[1627,1003],[1686,1004],[1702,1330],[1656,1306],[1623,1379],[1629,1380],[1586,1401],[1611,1487],[1915,1443],[1833,1473],[1842,1485],[1870,1491],[1779,1532],[1891,1521],[1837,1511],[1811,1575],
[1820,1619],[1537,1649],[1649,1684],[1623,1726],[1694,1675],[1682,1694],[1872,1716],[1898,1731],[1919,1736],[1861,1749],[1892,1761],[1952,1705],[1769,1766],[1802,1788],[1665,1785],[1734,1799],[1725,1830],[1821,1836],[1740,1838],[1465,1832],[1245,1837],[1261,1825],[1379,1809],[1239,1854],[1203,1891],[1204,1909],[1710,1860],[1655,1885],[1679,1889],[1484,1868],[1380,1896],[1384,1901],[1328,1915],[1274,1919],[1509,1947],[1816,1930],[1797,1937],[1272,1957],[1431,1972],[1411,1977],[1391,1975],[1303,1982],[1362,1991],[1778,1981],[1544,2001],[1390,2005],[1772,2003],[1806,2013],[1772,2024],[1657,2017],[1515,2024],[1602,2027],[1705,2045],[1816,2047],[1912,2077],[1970,2088],[1971,2091],[1798,2089],[1821,2090],[1811,2097],[1847,2089],[1836,2102],[1820,2104],[1850,2105],[1919,2095],[1912,2096],[1904,2105],[1802,2110],[1837,2113],[1874,2104],[1860,2121],[1769,2114],[1763,2120],[1791,2126],[1844,2119],[1827,2128],[1832,2136],[1854,2132],[1725,2133],[1893,2138],[1901,2145],[1834,2142],[1804,2146],[1811,2145],[1808,2154],[1839,2160],[1961,2147],[1440,2147],[1973,2170],[1880,2177],[1901,2181],[1955,2188],[1978,2190],[1907,2204],[1848,2207],[1840,2217],[1923,2212],[1966,2211],[1877,2217],[1814,2223],[1826,2238],[1920,2242],[1944,2238],[1809,2250],[1804,2252],[1839,2253],[1823,2257],[1807,2266],[1798,2269],[1794,2276],[1909,2258],[1906,2265],[1970,2260],[1960,2267],
[2338,1818],[2307,1879],[2146,1999],[2155,1998],[2096,2062],[2163,2088],[2195,2113],[2106,2129],[2058,2116],[2017,2138],[2282,2038],[2304,2039],[2279,2024],[2128,2185],[2126,2196],[2134,2197],[2169,2197],[2196,2205],[2149,2208],[2161,2213],[2166,2219],[2058,2165],[2026,2180],[2009,2191],[1988,2196],[1997,2214],[2012,2220],[2019,2223],[2056,2213],[2056,2218],[1993,2231],[2007,2250],[2025,2249],[2034,2243],[2045,2249],[2063,2246],[2034,2253],[2015,2263],[2012,2268],[2050,2264],[2059,2269],[2060,2274],[2092,2269],[2098,2272],[2041,2281],[2039,2285],
[1804,2335],[1791,2361],[1715,2446],[1773,2430],[1777,2441],[1784,2442],[1557,2404],[1510,2555],[1513,2575],[1540,2568],[1578,2581],[1550,2600],[1693,2537],[1733,2541],[1759,2565],[1765,2563],[1755,2577],[1723,2584],[1715,2598],[1688,2613],[1686,2616],[1672,2628],[1668,2638],[1675,2654],[1761,2616],[1788,2614],[1761,2625],[1765,2636],[1757,2635],[1756,2647],[1952,2494],[1945,2513],[1998,2294],[2040,2284],[1951,2316],[1954,2322],[1988,2326],[1941,2339],[2013,2326],[2010,2333],[1969,2343],[1998,2345],[2010,2343],[2076,2322],[2059,2346],[1971,2354],[1996,2355],[1962,2360],[1975,2361],[2008,2359],[2005,2367],[2002,2372],[1998,2376],
]

const hepPhenom: Pt[] = [
[1051,790],[1067,782],[1072,785],[1054,804],[1072,798],[1091,802],[1089,808],[1106,781],[1112,793],[1105,808],[1118,806],[1108,819],[1122,814],[1127,788],[1133,779],[1136,782],[1130,795],[1148,773],[1154,784],[1157,787],[1146,796],[1151,799],[1166,763],[1199,777],[1203,774],[1180,805],[1167,811],[1156,816],[1147,819],[1156,833],[1170,833],[1133,829],[1123,835],[1105,831],[1140,846],[1181,851],[1188,829],[1199,841],[1204,850],[1138,867],[1106,852],[1059,862],[1047,856],[1028,848],[1053,826],[1073,813],[1083,822],[1075,838],[1079,845],[1088,905],[1089,915],[1225,939],[1270,933],[1269,925],[1251,957],[1268,943],[1278,953],[1155,1004],[1177,999],[1322,755],[1397,723],[1182,1071],[1068,2029],
[1423,1365],[1435,1369],[1149,1474],[1140,1566],[1399,1542],[1411,1610],[1421,1610],[1416,1615],[1332,1617],[1488,1744],
[1536,370],[1602,448],[1563,464],[1551,474],[1615,466],[1619,451],[1767,444],[1488,527],[1492,528],[1507,535],[1499,543],[1521,556],[1485,559],[1569,618],[1867,550],[1483,678],[1493,695],[1519,697],[1539,700],[1508,708],[1551,710],[1573,690],[1567,714],[1504,727],[1519,726],[1530,721],[1534,725],[1449,742],[1528,764],[1542,787],[1535,810],[1520,820],[1598,812],[1604,810],[1617,803],[1570,824],[1494,828],[1500,833],[1495,843],[1566,860],[1488,940],[1488,943],[1866,669],[1874,679],[1897,676],[1881,694],[1895,706],[1902,710],[1851,718],[1878,739],[1924,737],[1907,775],[1836,673],[1887,791],[1895,820],[1898,816],[1890,850],[1775,867],[1771,872],[1764,887],[1759,877],
[1789,940],[1808,936],[1783,943],[1780,946],[1793,951],[1800,951],[1795,954],[1803,958],[1807,963],[1783,962],[1768,967],[1822,976],[1789,985],[1793,988],[1821,1002],[1771,1002],[1902,960],[1912,964],[1920,1000],
[1994,724],[1904,711],[1971,780],[1901,815],[2199,825],[2023,889],[1924,1014],[1936,1024],[1924,1048],[1935,1085],[1905,1089],[1932,1106],[1942,1137],[1916,1140],[1910,1147],[1906,1155],[2369,994],[2396,995],[2397,1003],[2412,1010],[2414,1017],[2414,1023],[2346,1023],[2436,1010],
[1821,1004],[1789,1027],[1819,1020],[1865,1020],[1755,1035],[1722,1036],[1705,1043],[1761,1049],[1775,1050],[1791,1040],[1804,1040],[1797,1043],[1812,1047],[1861,1028],[1852,1045],[1847,1059],[1760,1068],[1782,1073],[1796,1065],[1815,1065],[1826,1068],[1840,1066],[1866,1065],[1833,1072],[1849,1079],[1864,1079],[1800,1079],[1810,1082],[1806,1092],[1834,1091],[1851,1091],[1862,1092],[1877,1087],[1742,1100],[1763,1093],[1786,1106],[1842,1101],[1870,1107],[1801,1115],[1868,1116],[1768,1121],[1805,1127],[1835,1122],[1849,1120],[1884,1119],[1788,1131],[1800,1135],[1861,1134],[1870,1140],[1643,1138],[1741,1144],[1820,1144],[1850,1145],[1817,1156],[1776,1158],[1843,1156],[1814,1167],[1897,1165],[1868,1194],[1822,1208],
[1783,1223],[1789,1231],[1802,1231],[1840,1225],[1848,1232],[1901,1224],[1725,1227],[1730,1227],[1799,1247],[1854,1254],[1759,1261],[1780,1268],[1769,1272],[1778,1275],[1804,1270],[1830,1273],[1797,1277],[1843,1282],[1868,1278],[1881,1274],[1894,1250],[1897,1258],[1896,1267],[1733,1290],[1776,1291],[1821,1293],[1845,1294],[1789,1307],[1865,1308],[1825,1314],[1825,1323],[1846,1323],[1859,1325],[1890,1318],[1901,1315],[1913,1313],[1963,1291],[1922,1284],[1642,1318],[1749,1319],[1743,1325],[1776,1335],[1870,1340],[1857,1329],[1945,1328],[1977,1334],[1990,1342],[1957,1345],[1960,1354],[2095,1318],[2039,1259],[2072,1254],[1728,1355],[1787,1356],[1795,1364],[1807,1371],[1708,1364],[1710,1376],[1696,1382],[1766,1380],[1932,1378],[1939,1386],[1966,1391],[1741,1395],[1745,1398],[1756,1398],[1746,1420],[1660,1427],[1682,1432],[1787,1444],[1765,1513],[1658,1503],[1892,1489],[1716,1586],[1954,1427],[1991,1425],[1966,1476],[2069,1456],[2085,1424],[2090,1370],[2128,1394],[2146,1366],[2105,1569],[2090,1653],[2214,1603],[1978,1566],[1988,1691],[2208,1384],[2219,1373],[2231,1344],[2218,1346],[2204,1348],[2194,1337],[2227,1332],[2009,1457],[2348,1610],[2394,1583],[2504,1655],[2000,1741],[2199,1761],[2452,1857],[2325,1858],[2248,1780],[2272,1800],[2452,1255],
[1509,1049],[1614,1249],[1706,1318],[1560,1532],[1579,1605],[1680,1567],[1413,1610],[1419,1614],[1330,1617],[1579,1606],[1603,1623],[1592,1637],[1489,1743],[1541,1765],[1800,1683],[1988,1690],[1705,1811],[1766,1762],[1623,1666],[1924,1817],[1933,1806],[1926,1808],[1934,1883],[1863,1893],[1973,1878],[1859,1913],[1857,1928],[1951,1920],[1979,1910],[1988,1921],[1828,1932],[1796,1930],[1864,1938],[1863,1945],[1931,1938],[1955,1944],[1968,1937],[1973,1943],[1845,1952],[1850,1954],[1760,1950],[1957,1952],[1992,1957],[1843,1970],[1944,2009],[1692,1923],[1569,2005],[1568,2027],[1622,2042],[1521,2150],[1446,2208],
[2198,1761],[2248,1780],[2273,1800],[2091,2052],[2161,1998],[1494,2609],
]

const condensed: Pt[] = [
[1666,307],[1708,447],[1636,488],[1758,557],[1690,598],[1888,625],[1887,629],[1847,648],[1893,650],[1894,664],[1934,686],[1926,715],[1925,738],[1923,764],[1876,773],[1853,758],[1580,723],[1572,739],[1570,749],[1647,752],[1613,735],[1661,765],[1665,768],[1586,775],[1630,783],[1660,804],[1666,804],[1646,827],[1658,826],[1671,826],[1627,836],[1682,834],[1676,841],[1555,849],[1551,858],[1585,849],[1693,851],[1639,853],[1615,860],[1636,860],[1668,862],[1713,866],[1608,868],[1606,876],[1658,875],[1666,877],[1690,876],[1643,886],[1638,891],[1659,886],[1671,895],[1689,897],[1623,906],[1652,904],[1671,921],[1558,990],[1570,985],[1571,999],[1588,990],[1553,1030],[1623,1030],
[2250,545],[2188,555],[2186,567],[2145,823],[2150,828],[2152,835],[2161,837],[1940,908],[2058,1093],[2011,1184],[2032,1183],[2028,1196],[2209,1265],[2071,1424],[1965,1424],[2413,1422],[2409,1427],[2388,1397],[1976,1649],
[1187,1140],[1321,1144],[1379,1076],[1456,1121],[1437,1104],[1049,1343],[1429,1350],[1460,1324],[1316,1384],[968,1365],[968,1369],[959,1386],[986,1388],[1016,1386],[962,1403],[973,1402],[975,1397],[983,1416],[953,1421],[974,1423],[981,1420],[983,1425],[946,1437],[955,1442],[986,1449],[1011,1459],[988,1469],[986,1474],[979,1484],[1205,1483],[1324,1473],[1334,1470],[1322,1499],[1361,1478],[1376,1456],[1274,1494],[1307,1524],[1099,1531],[1136,1551],[1037,1575],[896,1615],[915,1623],[1288,1554],[1233,1587],[1248,1580],[1177,1616],[1180,1614],[1247,1634],[1249,1637],[1265,1673],[1129,1690],[1149,1698],[1084,1704],[1088,1704],[934,1737],[1334,1726],[1122,1747],[1167,1797],[920,1900],[985,1885],[1005,1880],
[1554,1031],[1624,1031],[1727,1074],[1628,1164],[1584,1319],[1617,1308],[1847,1360],[1669,1400],[1684,1402],[1671,1416],[1843,1405],[1867,1395],[1901,1403],[1520,1429],[1661,1440],[1713,1479],[1883,1472],[1880,1482],[1715,1502],[1706,1507],[1597,1515],[1872,1523],[1859,1538],[1923,1519],[1931,1521],[1944,1524],[1676,1538],[1750,1544],[1743,1570],[1905,1556],[1928,1559],[1934,1556],[1942,1548],[1687,1552],[1695,1576],[1695,1598],[1661,1624],[1786,1581],[1797,1591],[1857,1594],
[1563,1618],[1583,1615],[1519,1639],[1503,1666],[1662,1623],[1636,1628],[1682,1628],[1696,1624],[1650,1634],[1639,1639],[1739,1622],[1742,1642],[1673,1647],[1679,1647],[1662,1659],[1672,1656],[1700,1649],[1717,1661],[1736,1658],[1761,1657],[1764,1633],[1789,1648],[1759,1664],[1779,1670],[1718,1668],[1669,1665],[1675,1677],[1615,1679],[1718,1682],[1697,1680],[1835,1624],[1831,1636],[1861,1633],[1821,1666],[1846,1675],[1881,1663],[1872,1673],[1975,1648],[1576,1690],[1712,1695],[1725,1698],[1732,1704],[1745,1704],[1780,1695],[1819,1694],[1662,1702],[1677,1705],[1794,1709],[1801,1708],[1834,1706],[1840,1711],[1677,1719],[1723,1717],[1728,1722],[1743,1719],[1769,1718],[1793,1722],[1820,1729],[1901,1722],[1909,1719],[1917,1716],[1984,1718],[1589,1753],[1718,1736],[1715,1740],[1734,1744],[1754,1742],[1794,1735],[1798,1738],[1882,1738],[1888,1743],[1780,1755],[1718,1756],[1792,1762],[1798,1763],[1811,1758],[1840,1764],[1918,1763],[1655,1767],[1839,1776],[1700,1778],[1708,1786],[1753,1780],[1823,1796],[1862,1801],[1781,1794],[1756,1802],[1730,1802],[1769,1807],[1785,1814],[1798,1808],[1803,1811],[1728,1817],[1754,1822],[1804,1818],[1835,1822],[1787,1824],[1758,1857],[1637,1848],[1674,1837],[1690,1864],[1695,1875],[1701,1877],[1514,1881],[1372,1811],[1367,1823],[1265,1673],[1334,1726],[1354,1863],[1368,1866],[1370,1883],[1417,1899],[1427,1869],[1275,1913],[1287,1914],[1494,1904],[1622,1916],[1576,1930],[1771,1902],[1687,1921],[1641,1947],[1659,1951],[1410,1943],[1345,1948],[1268,1978],[1645,1980],[1765,1966],[1616,1991],[1736,2006],[1487,1995],[1625,2022],[1597,2037],[1526,2067],[1523,2081],[1802,2047],[1792,2081],[1489,2092],[1432,2115],[1463,2114],[1816,2119],[1564,2136],[1386,2150],[1938,2172],[1968,2182],[1886,2188],[1954,2213],[1979,2212],[1778,2199],[1784,2204],[1788,2210],[1778,2221],[1790,2244],[1804,2244],[1516,2311],[1095,2033],[1293,2072],[1299,2077],
[2049,1721],[2142,1724],[2143,1731],[2157,1742],[2211,1758],[2359,1745],[2046,1759],[2081,1751],[2131,1760],[2098,1767],[2112,1770],[2124,1770],[2091,1778],[2103,1781],[2137,1782],[2153,1782],[2057,1786],[2119,1786],[2091,1792],[2099,1792],[2108,1794],[2122,1794],[2135,1794],[2143,1791],[2163,1790],[2063,1795],[2079,1799],[2028,1799],[2023,1804],[2114,1808],[2079,1818],[2107,1813],[2099,1818],[2019,1822],[2111,1825],[2121,1828],[2134,1822],[2139,1824],[2150,1825],[2042,1842],[2054,1845],[2114,1839],[2137,1847],[2108,1851],[2112,1850],[2082,1855],[2098,1859],[2023,1860],[2042,1860],[2047,1864],[2116,1864],[2165,1865],[2170,1865],[2077,1873],[2045,1878],[2113,1878],[2063,1890],[2091,1888],[2134,1889],[2132,1892],[2092,1894],[2086,1901],[2139,1911],[2085,1920],[2133,1921],[2121,1926],[2110,1934],[2110,1942],[2062,1958],
[2295,1777],[2270,1784],[2268,1794],[2238,1808],[2277,1813],[2277,1821],[2305,1825],[2248,1828],[2262,1828],[2262,1833],[2235,1835],[2291,1835],[2274,1834],[2282,1828],[2213,1844],[2247,1845],[2305,1846],[2275,1857],[2287,1861],[2235,1870],[2241,1869],[2265,1885],[2265,1894],[2265,1904],[2163,1988],[2176,2008],[2185,2010],[2287,2003],[2276,2010],[2258,2022],[2312,2028],[2293,2019],[2058,2099],[2021,2109],[2016,2126],[2038,2232],[2007,2188],[1991,2298],
[1517,2312],[1718,2518],[1602,2485],[1611,2472],[1558,2470],[1561,2402],[1737,2393],
]

const grQc: Pt[] = [
[1205,950],[1346,862],[1420,616],[1867,618],[1867,465],[1523,792],[1557,783],[1730,824],[1745,857],[1427,891],[1428,900],[1724,927],[1674,978],[2015,891],[2200,519],[2293,1165],[2303,1163],[1118,1553],[1361,1726],[1046,1992],[1067,2017],[1181,2101],
[1743,1196],[1819,1334],[1975,1451],[2003,1516],[1983,1537],[2081,1547],[1937,1610],[1762,1605],[1965,1582],
[2002,1332],[2152,1362],[2238,1375],[2241,1412],[2148,1423],[2089,1541],[2015,1610],[2023,1617],[2004,1621],[2093,1607],[2032,1652],[2049,1645],[2062,1645],[2482,1252],[1981,1759],[2005,1843],
[1878,1632],[1860,1657],[1870,1772],[1599,1784],[1592,1796],[1450,1816],[1780,1822],[1422,1858],[1440,1875],[1636,1869],[1618,1885],[1896,1953],[1543,1943],[1384,1985],[1496,1991],[1943,1972],[1909,1990],[1865,1990],[1871,1991],[1925,1995],[1954,1994],[1970,2004],[1730,2007],[1697,2028],[1356,2034],[1593,2024],[1926,2022],[1621,2050],[1644,2054],[1580,2069],[1835,2063],[1858,2074],[1476,2075],[1551,2081],[1563,2084],[1597,2090],[1632,2092],[1633,2098],[1676,2091],[1685,2089],[1541,2097],[1865,2096],[1558,2107],[1499,2112],[1515,2124],[1526,2120],[1540,2119],[1882,2133],[1499,2151],[1586,2152],[1524,2166],[1536,2160],[1499,2172],[1489,2176],[1515,2180],[1563,2178],[1650,2174],[1553,2186],[1562,2196],[1526,2200],[1579,2207],[1621,2201],[1458,2217],[1356,2231],[1366,2231],[1425,2235],[1457,2234],[1537,2225],[1537,2232],[1579,2238],[1605,2234],[1554,2241],[1537,2242],[1503,2242],[1267,2238],[1440,2246],[1438,2253],[1499,2249],[1332,2253],[1337,2258],[1469,2260],[1396,2279],[1416,2274],[1434,2274],[1455,2277],[1458,2280],[1536,2274],[1535,2289],[1599,2281],[1603,2289],[1605,2294],[1498,2293],[1518,2296],[1516,2304],[1292,2289],[1330,2283],[1353,2296],[1345,2305],[1339,2309],[1335,2323],[1303,2328],[1364,2355],[1891,2353],
[1980,1760],[2323,2204],[1993,2025],[2013,2025],[1994,2034],[1970,2003],[2091,2055],[2165,2086],[2267,2054],
]

const categories = ['Math', 'Astrophysics', 'CS', 'HEP - theory', 'Physics (other)', 'Nuclear theory', 'Quantum phys.', 'HEP - phenom.', 'Condensed mat.', 'GR & QC']
const colors = ['#1f77b4', '#ff7f0e', '#2ca02c', '#d62728', '#9467bd', '#8c564b', '#e377c2', '#7f7f7f', '#bcbd22', '#17becf']
const legendColors = ['#4c92c3', '#ff8a1b', '#56b356', '#d72e32', '#a985ca', '#915c53', '#e992ce', '#999999', '#c9ca4e', '#49cbd9']
const seriesPoints = [math, astro, cs, hepTheory, physicsOther, nuclear, quantum, hepPhenom, condensed, grQc]

const FONT = '"Open Sans", "Noto Sans", sans-serif'

function Dot(props: any) {
  return <circle cx={props.cx} cy={props.cy} r={8} fill={props.fill} fillOpacity={0.8} />
}

export default function App() {
  return (
    <div style={{ position: 'absolute', left: 0, top: 0, width: WIDTH, height: HEIGHT, background: '#fff', overflow: 'hidden', fontFamily: FONT }}>
      <ScatterChart width={WIDTH} height={HEIGHT} margin={{ top: 0, right: 0, bottom: 0, left: 0 }}>
        <XAxis type="number" dataKey="x" domain={[0, WIDTH]} hide />
        <YAxis type="number" dataKey="y" domain={[0, HEIGHT]} reversed hide />
        {categories.map((name, i) => (
          <Scatter
            key={name}
            name={name}
            data={seriesPoints[i].map(([x, y]) => ({ x, y }))}
            fill={colors[i]}
            shape={Dot}
            isAnimationActive={false}
          />
        ))}
      </ScatterChart>

      <div style={{ position: 'absolute', left: 3012, top: 385, width: 500 }}>
        {categories.map((name, i) => (
          <div key={name} style={{ height: 80, lineHeight: '78px', paddingLeft: 26, background: legendColors[i], fontSize: 50, letterSpacing: 4, color: '#fff', whiteSpace: 'nowrap' }}>
            {name}
          </div>
        ))}
      </div>

      <div
        style={{
          position: 'absolute',
          left: 0,
          top: 3003,
          width: WIDTH,
          height: 126,
          background: 'linear-gradient(to right, #666 0%, #777 20%, #a6a6a6 45%, #b4b4b4 58%, #c6c6c6 68%, #c2c2c2 100%)',
        }}
      >
        <div style={{ position: 'absolute', right: 65, top: 0, lineHeight: '120px', fontSize: 60, color: '#111', whiteSpace: 'nowrap' }}>
          <span style={{ fontStyle: 'italic', letterSpacing: 6 }}>t-SNE of arXiv abstracts</span>
          <span> | </span>
          <span style={{ fontWeight: 600, color: '#000', letterSpacing: 4.5 }}>Christopher Bryant</span>
        </div>
      </div>
    </div>
  )
}
